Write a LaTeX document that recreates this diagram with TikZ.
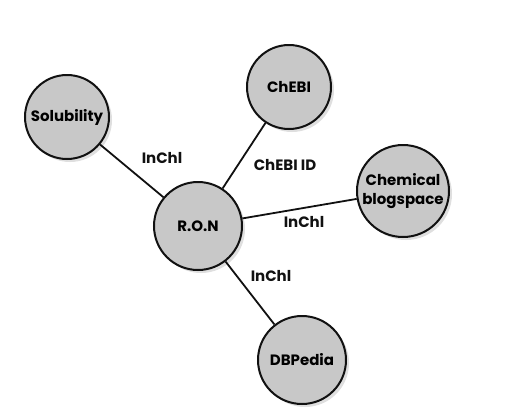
\documentclass[tikz,border=0pt]{standalone}
\usepackage{fontspec}
\setmainfont{Poppins}
\usepackage{tikz}
\usetikzlibrary{shadows}
\definecolor{RonGray}{HTML}{C8C8C8}
\definecolor{RonInk}{HTML}{111111}

\begin{document}
\begin{tikzpicture}[x=1pt,y=-1pt,font=\bfseries\fontsize{15}{15}\selectfont,
    hub/.style={circle, draw=RonInk, line width=2pt, fill=RonGray,
      minimum size=88pt, inner sep=0pt, align=center,
      drop shadow={opacity=0.25, shadow xshift=3pt, shadow yshift=-3pt}},
    link/.style={draw=RonInk, line width=1.8pt},
    tag/.style={text=RonInk, inner sep=1pt}]
    \useasboundingbox (0,0) rectangle (515,416);

    % nodes
    \node[hub] (ron) at (198,226) {R.O.N};
    \node[hub, minimum size=84pt] (sol) at (67,117) {Solubility};
    \node[hub, minimum size=84pt] (chebi) at (289,87) {ChEBI};
    \node[hub, minimum size=92pt] (blog) at (403,191) {Chemical\\[4pt]blogspace};
    \node[hub] (dbp) at (302,360) {DBPedia};

    % links
    \draw[link] (sol) -- (ron);
    \draw[link] (chebi) -- (ron);
    \draw[link] (blog) -- (ron);
    \draw[link] (dbp) -- (ron);

    % labels
    \node[tag] (lsol) at (162,158) {InChl};
    \node[tag] (lchebi) at (285,165) {ChEBI ID};
    \node[tag] (lblog) at (304,222) {InChl};
    \node[tag] (ldbp) at (271,276) {InChl};
\end{tikzpicture}
\end{document}
